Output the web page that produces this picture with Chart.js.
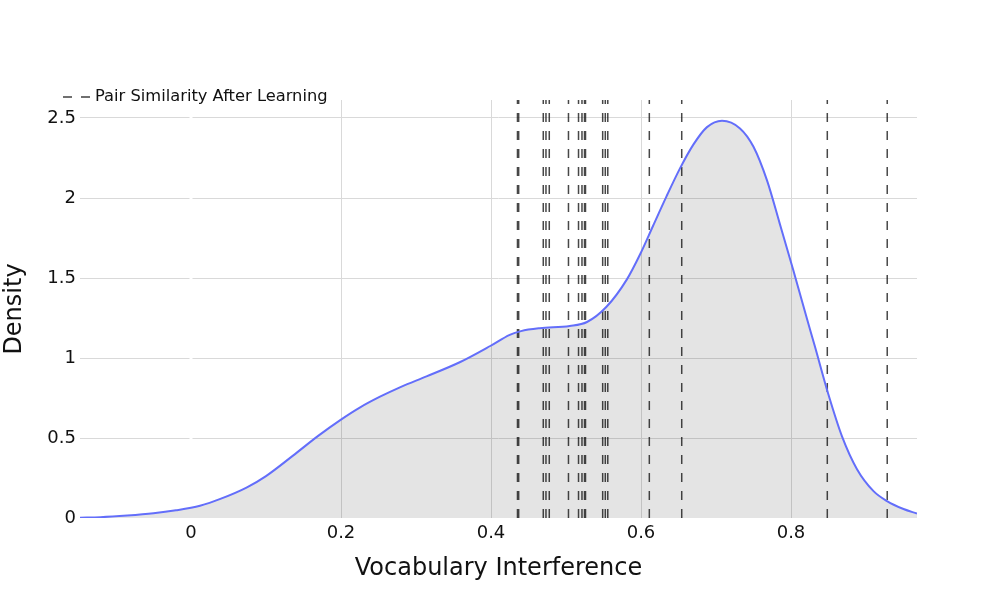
<!DOCTYPE html>
<html lang="en">
<head>
    <meta charset="UTF-8">
    <title>Vocabulary Interference density</title>
    <style>
        html, body { margin: 0; padding: 0; background: #fff; }
        #chart-container { width: 997px; height: 598px; }
    </style>
    <script src="https://cdn.jsdelivr.net/npm/chart.js"></script>
</head>
<body>
    <div id="chart-container">
        <canvas id="densityChart" width="997" height="598"></canvas>
    </div>
    <script>
        // KDE curve
        const kdeX = [-0.148, -0.121, -0.085, -0.05, -0.02, 0.012, 0.04, 0.074, 0.1, 0.136, 0.17, 0.199,
            0.225, 0.252, 0.28, 0.314, 0.359, 0.399, 0.425, 0.44, 0.465, 0.505, 0.528, 0.554, 0.581, 0.599,
            0.616, 0.634, 0.652, 0.670, 0.688, 0.708, 0.732, 0.75, 0.768, 0.785, 0.803, 0.812, 0.821, 0.832,
            0.85, 0.868, 0.888, 0.91, 0.928, 0.95, 0.968];
        const kdeY = [0.002, 0.005, 0.015, 0.029, 0.048, 0.077, 0.121, 0.19, 0.262, 0.39, 0.515, 0.612,
            0.69, 0.758, 0.82, 0.885, 0.975, 1.075, 1.145, 1.168, 1.186, 1.2, 1.225, 1.32, 1.49, 1.65,
            1.825, 2.01, 2.185, 2.335, 2.443, 2.483, 2.435, 2.32, 2.11, 1.84, 1.55, 1.40, 1.25, 1.07,
            0.77, 0.51, 0.305, 0.168, 0.106, 0.056, 0.028];

        // pair similarities after learning (dashed verticals)
        const pairSimilarity = [0.4353, 0.4369, 0.4697, 0.4733, 0.4777, 0.5033, 0.5167, 0.5213, 0.5247,
            0.526, 0.5489, 0.5524, 0.5557, 0.6111, 0.6543, 0.8484, 0.9283];

        const xTicks = [0, 0.2, 0.4, 0.6, 0.8];
        const xTickLabels = ['0', '0.2', '0.4', '0.6', '0.8'];
        const yTicks = [0, 0.5, 1, 1.5, 2, 2.5];
        const yTickLabels = ['0', '0.5', '1', '1.5', '2', '2.5'];

        const xMin = -0.148, xMax = 0.968;
        const yMin = 0, yMax = 2.6125;

        const legendLabel = 'Pair Similarity After Learning';
        const xTitle = 'Vocabulary Interference';
        const yTitle = 'Density';

        Chart.defaults.font.family = '"DejaVu Sans", sans-serif';
        Chart.defaults.color = '#111';

        const kdePoints = kdeX.map((x, i) => ({ x: x, y: kdeY[i] }));

        // each vertical line = two points, broken by a null
        const pairPoints = [];
        pairSimilarity.forEach(v => {
            pairPoints.push({ x: v, y: yMin }, { x: v, y: yMax }, { x: v, y: null });
        });

        // white zero line like plotly (cuts the horizontal grid)
        const zeroLine = {
            id: 'zeroLine',
            beforeDatasetsDraw(chart) {
                const { ctx, chartArea, scales } = chart;
                const px = scales.x.getPixelForValue(0);
                ctx.save();
                ctx.strokeStyle = '#fff';
                ctx.lineWidth = 3;
                ctx.beginPath();
                ctx.moveTo(px, chartArea.top);
                ctx.lineTo(px, chartArea.bottom);
                ctx.stroke();
                ctx.restore();
            }
        };

        // legend entry sitting above the plot, left aligned
        const dashLegend = {
            id: 'dashLegend',
            afterDraw(chart) {
                const { ctx, chartArea } = chart;
                const y = chartArea.top - 3;
                const x0 = chartArea.left - 17;
                ctx.save();
                ctx.strokeStyle = 'rgba(0,0,0,0.75)';
                ctx.lineWidth = 1.5;
                ctx.setLineDash([9, 9]);
                ctx.beginPath();
                ctx.moveTo(x0, y);
                ctx.lineTo(x0 + 27, y);
                ctx.stroke();
                ctx.setLineDash([]);
                ctx.fillStyle = '#111';
                ctx.font = '16.3px "DejaVu Sans", sans-serif';
                ctx.textBaseline = 'middle';
                ctx.fillText(legendLabel, x0 + 32, y);
                ctx.restore();
            }
        };

        const ctx = document.getElementById('densityChart').getContext('2d');
        const chart = new Chart(ctx, {
            type: 'line',
            data: {
                datasets: [
                    {
                        label: 'Density',
                        data: kdePoints,
                        borderColor: '#636efa',
                        borderWidth: 2,
                        backgroundColor: 'rgba(0,0,0,0.105)',
                        fill: 'origin',
                        pointRadius: 0,
                        cubicInterpolationMode: 'monotone'
                    },
                    {
                        label: legendLabel,
                        data: pairPoints,
                        borderColor: 'rgba(0,0,0,0.72)',
                        borderWidth: 1.5,
                        borderDash: [9, 9],
                        pointRadius: 0,
                        fill: false,
                        spanGaps: false
                    }
                ]
            },
            options: {
                responsive: false,
                animation: false,
                layout: { padding: { top: 100, right: 80, left: 0, bottom: 0 } },
                plugins: {
                    legend: { display: false },
                    tooltip: { enabled: false }
                },
                scales: {
                    x: {
                        type: 'linear',
                        min: xMin,
                        max: xMax,
                        afterBuildTicks: s => { s.ticks = xTicks.map(v => ({ value: v })); },
                        afterFit: s => { s.height = 80; },
                        ticks: {
                            font: { size: 18 },
                            padding: 5,
                            maxRotation: 0,
                            callback: (v) => xTickLabels[xTicks.indexOf(v)]
                        },
                        grid: {
                            drawTicks: false,
                            color: c => (c.tick && c.tick.value === 0) ? 'rgba(0,0,0,0)' : '#d9d9d9',
                            lineWidth: 1
                        },
                        border: { display: false },
                        title: {
                            display: true,
                            text: xTitle,
                            font: { size: 24 },
                            padding: { top: 0, bottom: 15 }
                        }
                    },
                    y: {
                        type: 'linear',
                        min: yMin,
                        max: yMax,
                        afterBuildTicks: s => { s.ticks = yTicks.map(v => ({ value: v })); },
                        afterFit: s => { s.width = 80; },
                        ticks: {
                            font: { size: 18 },
                            padding: 4,
                            callback: (v) => yTickLabels[yTicks.indexOf(v)]
                        },
                        grid: {
                            drawTicks: false,
                            color: c => (c.tick && c.tick.value === 0) ? 'rgba(0,0,0,0)' : '#d9d9d9',
                            lineWidth: 1
                        },
                        border: { display: false },
                        title: {
                            display: true,
                            text: yTitle,
                            font: { size: 24 },
                            padding: { top: 0, bottom: 0 }
                        }
                    }
                }
            },
            plugins: [zeroLine, dashLegend]
        });
    </script>
</body>
</html>
